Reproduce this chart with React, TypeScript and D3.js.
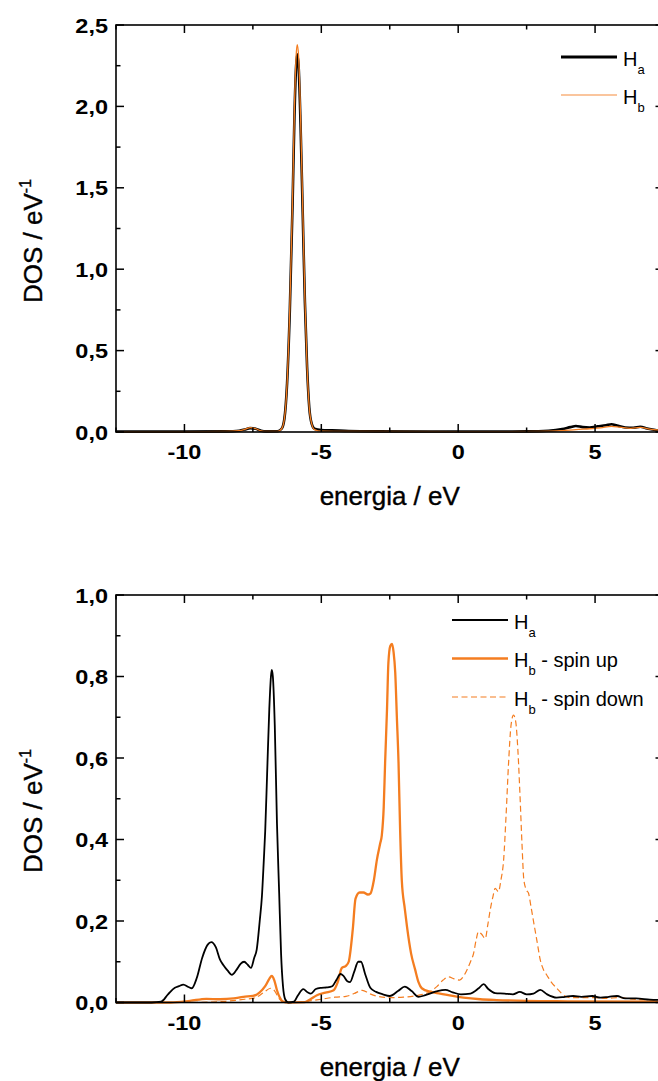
import React from "react";
import * as d3 from "d3";

// ---------- DATA ----------
// top panel: DOS of Ha and Hb
const topHa: [number, number][] = [
  [-12.5, 0.002], [-10, 0.002], [-8.5, 0.004], [-8, 0.008], [-7.8, 0.015], [-7.6, 0.024], [-7.4, 0.02],
  [-7.2, 0.008], [-7, 0.004], [-6.6, 0.005], [-6.45, 0.02], [-6.35, 0.08], [-6.25, 0.3], [-6.15, 0.75],
  [-6.05, 1.4], [-5.98, 1.95], [-5.92, 2.25], [-5.88, 2.32], [-5.83, 2.25], [-5.76, 1.9], [-5.68, 1.35],
  [-5.6, 0.8], [-5.52, 0.4], [-5.44, 0.15], [-5.35, 0.05], [-5.25, 0.02], [-5, 0.012], [-4.6, 0.01],
  [-4, 0.006], [-3, 0.004], [-1, 0.003], [1, 0.003], [2.5, 0.004], [3.3, 0.008], [3.8, 0.018], [4.1, 0.03],
  [4.3, 0.037], [4.55, 0.03], [4.8, 0.028], [5.1, 0.035], [5.4, 0.042], [5.6, 0.048], [5.8, 0.04],
  [6.1, 0.028], [6.4, 0.026], [6.65, 0.032], [6.9, 0.022], [7.2, 0.012], [7.5, 0.008],
];
const topHb: [number, number][] = [
  [-12.5, 0.001], [-10, 0.001], [-8.5, 0.003], [-8, 0.008], [-7.8, 0.016], [-7.6, 0.027], [-7.4, 0.02],
  [-7.2, 0.007], [-7, 0.003], [-6.6, 0.003], [-6.45, 0.02], [-6.35, 0.08], [-6.25, 0.3], [-6.15, 0.77],
  [-6.05, 1.43], [-5.98, 2.0], [-5.92, 2.31], [-5.88, 2.38], [-5.83, 2.31], [-5.76, 1.95], [-5.68, 1.38],
  [-5.6, 0.82], [-5.52, 0.4], [-5.44, 0.15], [-5.35, 0.05], [-5.25, 0.015], [-5, 0.005], [-4, 0.003],
  [0, 0.002], [3, 0.003], [3.8, 0.008], [4.3, 0.015], [4.8, 0.02], [5.2, 0.025], [5.6, 0.035], [5.9, 0.03],
  [6.3, 0.022], [6.65, 0.028], [7, 0.018], [7.5, 0.01],
];

// bottom panel: Ha, Hb spin up, Hb spin down
const botHa: [number, number][] = [
  [-12.5, 0], [-11.2, 0], [-10.85, 0.002], [-10.6, 0.02], [-10.35, 0.036], [-10.2, 0.04], [-10.04, 0.044],
  [-9.85, 0.038], [-9.73, 0.035], [-9.55, 0.06], [-9.35, 0.11], [-9.15, 0.142], [-9.02, 0.148],
  [-8.85, 0.135], [-8.7, 0.105], [-8.58, 0.092], [-8.42, 0.078], [-8.27, 0.068], [-8.1, 0.08],
  [-7.95, 0.095], [-7.82, 0.1], [-7.68, 0.092], [-7.57, 0.085], [-7.45, 0.11], [-7.36, 0.13],
  [-7.25, 0.2], [-7.17, 0.26], [-7.1, 0.35], [-7.05, 0.42], [-6.98, 0.56], [-6.9, 0.72], [-6.84, 0.8],
  [-6.81, 0.816], [-6.77, 0.8], [-6.7, 0.68], [-6.62, 0.44], [-6.54, 0.27], [-6.47, 0.12], [-6.4, 0.04],
  [-6.32, 0.008], [-6.2, 0], [-6.0, 0.002], [-5.85, 0.018], [-5.66, 0.033], [-5.5, 0.025], [-5.38, 0.022],
  [-5.2, 0.033], [-5.0, 0.036], [-4.8, 0.037], [-4.6, 0.04], [-4.45, 0.055], [-4.3, 0.07], [-4.2, 0.066],
  [-4.05, 0.052], [-3.95, 0.05], [-3.8, 0.075], [-3.65, 0.1], [-3.55, 0.1], [-3.4, 0.07], [-3.21, 0.036],
  [-3.0, 0.026], [-2.75, 0.02], [-2.5, 0.016], [-2.2, 0.028], [-1.95, 0.039], [-1.7, 0.028],
  [-1.45, 0.014], [-1.2, 0.018], [-0.8, 0.027], [-0.47, 0.031], [-0.2, 0.025], [0.1, 0.02], [0.45, 0.022],
  [0.75, 0.035], [0.93, 0.045], [1.1, 0.033], [1.35, 0.023], [1.7, 0.022], [2.0, 0.02], [2.25, 0.026],
  [2.5, 0.02], [2.75, 0.022], [3.0, 0.031], [3.25, 0.02], [3.6, 0.012], [3.9, 0.014], [4.2, 0.016],
  [4.5, 0.014], [4.9, 0.016], [5.2, 0.012], [5.5, 0.014], [5.8, 0.016], [6.1, 0.01], [6.5, 0.01],
  [7.0, 0.007], [7.5, 0.006],
];
const botHbUp: [number, number][] = [
  [-12.5, 0], [-10.5, 0], [-9.8, 0.004], [-9.2, 0.009], [-8.7, 0.008], [-8.2, 0.01], [-7.85, 0.014],
  [-7.5, 0.016], [-7.25, 0.025], [-7.05, 0.04], [-6.9, 0.058], [-6.81, 0.065], [-6.72, 0.055],
  [-6.62, 0.03], [-6.5, 0.01], [-6.4, 0.002], [-6.2, 0], [-5.6, 0.001], [-5.4, 0.008], [-5.16, 0.018],
  [-4.85, 0.024], [-4.55, 0.03], [-4.4, 0.05], [-4.25, 0.085], [-4.1, 0.09], [-4.0, 0.1], [-3.85, 0.18],
  [-3.75, 0.255], [-3.6, 0.27], [-3.46, 0.27], [-3.3, 0.265], [-3.2, 0.268], [-3.08, 0.3], [-2.97, 0.35],
  [-2.85, 0.39], [-2.79, 0.41], [-2.72, 0.48], [-2.67, 0.587], [-2.6, 0.72], [-2.55, 0.833],
  [-2.48, 0.875], [-2.42, 0.88], [-2.36, 0.86], [-2.3, 0.81], [-2.24, 0.7], [-2.18, 0.59], [-2.12, 0.42],
  [-2.06, 0.3], [-1.95, 0.23], [-1.87, 0.186], [-1.72, 0.12], [-1.57, 0.08], [-1.45, 0.05],
  [-1.33, 0.035], [-1.0, 0.026], [-0.66, 0.022], [-0.2, 0.016], [0.19, 0.012], [0.8, 0.008],
  [1.41, 0.006], [2.5, 0.004], [4, 0.003], [7.5, 0.002],
];
const botHbDown: [number, number][] = [
  [-12.5, 0], [-10, 0], [-8.5, 0.003], [-7.8, 0.008], [-7.4, 0.012], [-7.1, 0.025], [-6.85, 0.035],
  [-6.7, 0.028], [-6.55, 0.01], [-6.4, 0.002], [-6.0, 0], [-5.5, 0.003], [-5.0, 0.008], [-4.5, 0.013],
  [-4.1, 0.015], [-3.8, 0.022], [-3.5, 0.03], [-3.25, 0.022], [-3.0, 0.016], [-2.5, 0.012], [-2.0, 0.013],
  [-1.6, 0.016], [-1.3, 0.02], [-1.1, 0.024], [-0.78, 0.039], [-0.55, 0.055], [-0.35, 0.063],
  [-0.15, 0.058], [0.05, 0.055], [0.2, 0.065], [0.32, 0.08], [0.45, 0.1], [0.56, 0.12], [0.66, 0.155],
  [0.74, 0.174], [0.85, 0.168], [0.99, 0.157], [1.08, 0.19], [1.17, 0.227], [1.27, 0.26], [1.35, 0.28],
  [1.47, 0.272], [1.56, 0.3], [1.66, 0.35], [1.75, 0.46], [1.84, 0.587], [1.93, 0.68], [2.02, 0.705],
  [2.1, 0.69], [2.18, 0.62], [2.26, 0.505], [2.33, 0.39], [2.4, 0.3], [2.5, 0.275], [2.57, 0.268],
  [2.66, 0.235], [2.75, 0.2], [2.88, 0.15], [3.0, 0.104], [3.12, 0.08], [3.24, 0.067], [3.4, 0.05],
  [3.6, 0.035], [3.85, 0.018], [4.1, 0.012], [4.5, 0.012], [4.94, 0.012], [5.4, 0.01], [5.9, 0.012],
  [6.4, 0.008], [7.0, 0.006], [7.5, 0.005],
];

const xDomain: [number, number] = [-12.5, 7.5];
const xMajor = [-10, -5, 0, 5];
const xMinor = [-12.5, -7.5, -2.5, 2.5, 7.5];
const topYDomain: [number, number] = [0, 2.5];
const topYMajor = [0, 0.5, 1.0, 1.5, 2.0, 2.5];
const topYMinor = [0.25, 0.75, 1.25, 1.75, 2.25];
const botYDomain: [number, number] = [0, 1.0];
const botYMajor = [0, 0.2, 0.4, 0.6, 0.8, 1.0];
const botYMinor = [0.1, 0.3, 0.5, 0.7, 0.9];
const xTitle = "energia / eV";

const ORANGE = "#f47d20";
const FONT = "'Liberation Sans', Arial, Helvetica, sans-serif";

const locale = d3.formatLocale({ decimal: ",", thousands: ".", grouping: [3], currency: ["", ""], minus: "-" });
const fmt1 = locale.format(".1f");
const fmtInt = locale.format("d");

type Series = { data: [number, number][]; color: string; width: number; dash?: string };
type LegendItem = { label: string; sub: string; rest: string; color: string; width: number; dash?: string };

function Panel(props: {
  top: number; bottom: number; yDomain: [number, number]; yMajor: number[]; yMinor: number[];
  series: Series[]; legend: LegendItem[]; legendX: number; legendY: number; legendGap: number; titleStartY: number;
}) {
  const left = 116, right = 663.5;
  const x = d3.scaleLinear().domain(xDomain).range([left, right]);
  const y = d3.scaleLinear().domain(props.yDomain).range([props.bottom, props.top]);
  const line = d3.line<[number, number]>().x(d => x(d[0])).y(d => y(d[1])).curve(d3.curveMonotoneX);
  const MJ = 8, MN = 4.5;
  return (
    <g>
      {props.series.map((s, i) => (
        <path key={i} d={line(s.data) || ""} fill="none" stroke={s.color} strokeWidth={s.width}
          strokeDasharray={s.dash} strokeLinejoin="round" />
      ))}
      <rect x={left} y={props.top} width={right - left} height={props.bottom - props.top}
        fill="none" stroke="#000" strokeWidth={1.6} />
      {/* x ticks bottom & top */}
      {xMajor.map(v => (
        <g key={"xm" + v}>
          <line x1={x(v)} x2={x(v)} y1={props.bottom} y2={props.bottom - MJ} stroke="#000" strokeWidth={1.5} />
          <line x1={x(v)} x2={x(v)} y1={props.top} y2={props.top + MJ} stroke="#000" strokeWidth={1.5} />
          <text transform={`translate(${x(v)},${props.bottom + 27}) scale(1.12,1)`} textAnchor="middle"
            fontFamily={FONT} fontWeight="bold" fontSize={21}>
            {fmtInt(v)}
          </text>
        </g>
      ))}
      {xMinor.map(v => (
        <g key={"xn" + v}>
          <line x1={x(v)} x2={x(v)} y1={props.bottom} y2={props.bottom - MN} stroke="#000" strokeWidth={1.5} />
          <line x1={x(v)} x2={x(v)} y1={props.top} y2={props.top + MN} stroke="#000" strokeWidth={1.5} />
        </g>
      ))}
      {/* y ticks left & right */}
      {props.yMajor.map(v => (
        <g key={"ym" + v}>
          <line x1={left} x2={left + MJ} y1={y(v)} y2={y(v)} stroke="#000" strokeWidth={1.5} />
          <line x1={right} x2={right - MJ} y1={y(v)} y2={y(v)} stroke="#000" strokeWidth={1.5} />
          <text transform={`translate(108,${y(v) + 7.5}) scale(1.12,1)`} textAnchor="end"
            fontFamily={FONT} fontWeight="bold" fontSize={21}>
            {fmt1(v)}
          </text>
        </g>
      ))}
      {props.yMinor.map(v => (
        <g key={"yn" + v}>
          <line x1={left} x2={left + MN} y1={y(v)} y2={y(v)} stroke="#000" strokeWidth={1.5} />
          <line x1={right} x2={right - MN} y1={y(v)} y2={y(v)} stroke="#000" strokeWidth={1.5} />
        </g>
      ))}
      {/* axis titles */}
      <text transform={`translate(${(left + right) / 2},${props.bottom + 73}) scale(1.04,1)`} textAnchor="middle"
        fontFamily={FONT} fontSize={25} stroke="#000" strokeWidth={0.35}>
        {xTitle}
      </text>
      <text transform={`translate(42,${props.titleStartY}) rotate(-90)`} fontFamily={FONT} fontSize={26}
        stroke="#000" strokeWidth={0.35}>
        DOS / eV<tspan fontSize={16} dy={-11}>-1</tspan>
      </text>
      {/* legend */}
      {props.legend.map((l, i) => {
        const ly = props.legendY + i * props.legendGap;
        return (
          <g key={"lg" + i}>
            <line x1={props.legendX} x2={props.legendX + 56} y1={ly} y2={ly} stroke={l.color}
              strokeWidth={l.width} strokeDasharray={l.dash} />
            <text x={props.legendX + 62} y={ly + 8.5} fontFamily={FONT} fontSize={20}>
              {l.label}
              <tspan fontSize={13} dy={8}>{l.sub}</tspan>
              <tspan fontSize={20} dy={-8}>{l.rest}</tspan>
            </text>
          </g>
        );
      })}
    </g>
  );
}

export default function App() {
  return (
    <svg width={658} height={1081} style={{ position: "absolute", left: 0, top: 0, background: "#fff" }}>
      <rect x={0} y={0} width={658} height={1081} fill="#fff" />
      <Panel top={25} bottom={432} yDomain={topYDomain} yMajor={topYMajor} yMinor={topYMinor}
        series={[
          { data: topHa, color: "#000", width: 2.6 },
          { data: topHb, color: ORANGE, width: 1.3 },
        ]}
        legend={[
          { label: "H", sub: "a", rest: "", color: "#000", width: 2.8 },
          { label: "H", sub: "b", rest: "", color: "#f8b27c", width: 1.6 },
        ]}
        legendX={561} legendY={57} legendGap={38} titleStartY={303} />
      <Panel top={595} bottom={1002.5} yDomain={botYDomain} yMajor={botYMajor} yMinor={botYMinor}
        series={[
          { data: botHbDown, color: ORANGE, width: 1.2, dash: "6,3.5" },
          { data: botHbUp, color: ORANGE, width: 2.3 },
          { data: botHa, color: "#000", width: 1.8 },
        ]}
        legend={[
          { label: "H", sub: "a", rest: "", color: "#000", width: 1.8 },
          { label: "H", sub: "b", rest: " - spin up", color: ORANGE, width: 2.3 },
          { label: "H", sub: "b", rest: " - spin down", color: ORANGE, width: 1.2, dash: "6,3.5" },
        ]}
        legendX={452} legendY={620} legendGap={38.5} titleStartY={873} />
    </svg>
  );
}
